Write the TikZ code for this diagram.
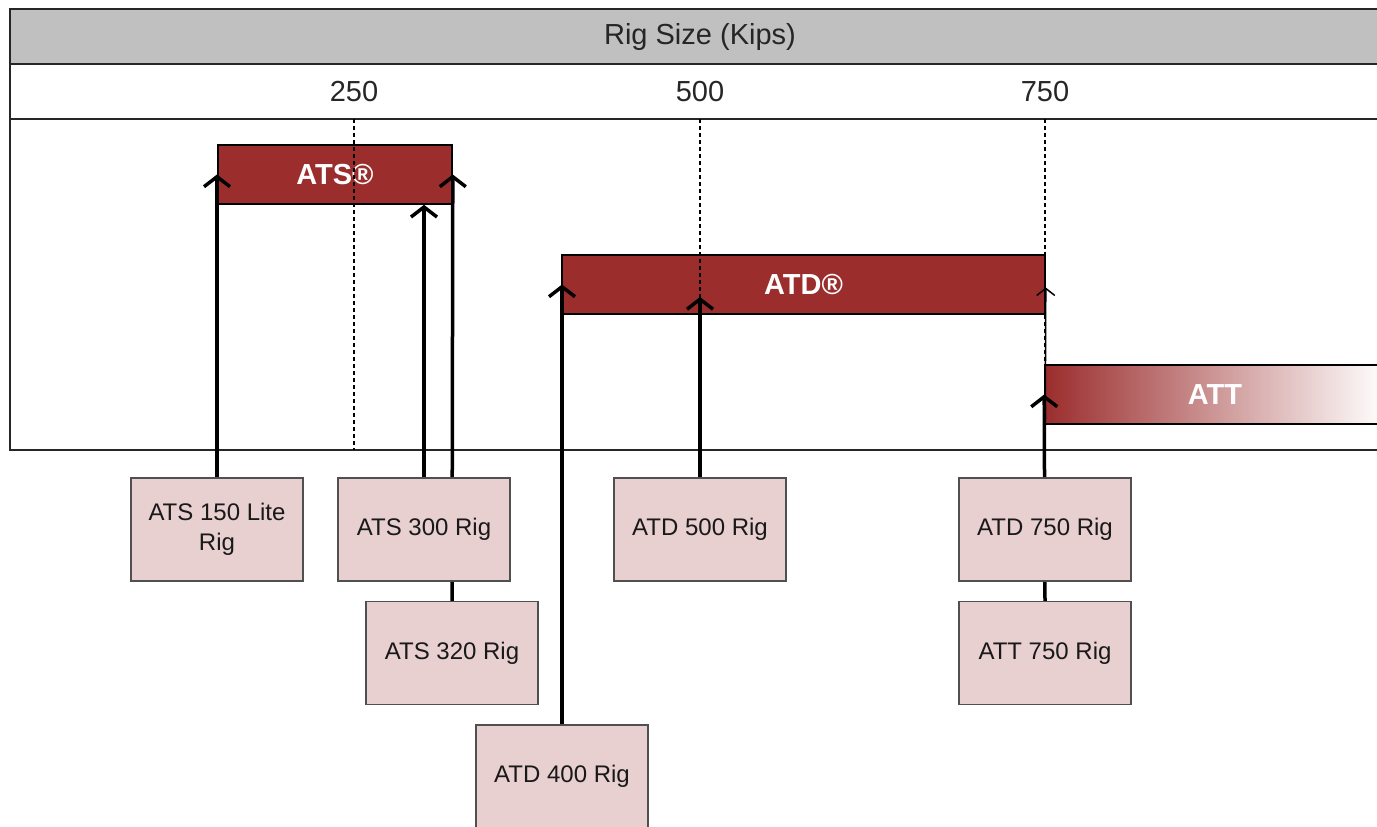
\documentclass[tikz,border=0pt]{standalone}
\usepackage{fontspec}
\setmainfont{Liberation Sans}
\usetikzlibrary{arrows.meta,backgrounds}
\definecolor{barred}{HTML}{9B2D2D}
\definecolor{boxpink}{HTML}{E8CFD0}
\definecolor{hdrgray}{HTML}{C0C0C0}
\definecolor{boxline}{HTML}{505050}
\begin{document}
\begin{tikzpicture}[x=1pt,y=-1pt,
  rigbox/.style={draw=boxline, line width=1.4pt, fill=boxpink, minimum width=172pt, minimum height=103pt, inner sep=0pt, align=center, font=\fontsize{24}{30}\selectfont, text=black!90},
  barbox/.style={draw=black, line width=1.6pt, fill=barred, minimum height=59pt, inner sep=0pt, text=white, font=\bfseries\fontsize{29}{32}\selectfont},
  frameline/.style={draw=black!85, line width=2pt},
  ticklabel/.style={font=\fontsize{29}{32}\selectfont, text=black!85},
  gridline/.style={black, line width=1.4pt, dash pattern=on 4pt off 3pt},
  link/.style={line width=3.5pt, -{Straight Barb[length=10pt,width=26pt]}},
  thinlink/.style={line width=1.5pt, -{Straight Barb[length=7pt,width=18pt]}}]
\useasboundingbox (0,0) rectangle (1377,827);
% rig boxes (main layer)
\node[rigbox] (ats150) at (217,529.5) {ATS 150 Lite\\Rig};
\node[rigbox] (ats300) at (424,529.5) {ATS 300 Rig};
\node[rigbox] (ats320) at (452,653) {ATS 320 Rig};
\node[rigbox] (atd400) at (562,776.5) {ATD 400 Rig};
\node[rigbox] (atd500) at (700,529.5) {ATD 500 Rig};
\node[rigbox] (atd750) at (1045,529.5) {ATD 750 Rig};
\node[rigbox] (att750) at (1045,653) {ATT 750 Rig};
\begin{scope}[on background layer]
  % frame
  \fill[hdrgray] (10,9) rectangle (1395,64);
  \draw[frameline] (1395,9) -- (10,9) -- (10,450) -- (1395,450);
  \draw[frameline] (10,64) -- (1395,64);
  \draw[frameline] (10,119) -- (1395,119);
  \node[ticklabel] (title) at (700,37) {Rig Size (Kips)};
  \node[ticklabel] (t250) at (354,92) {250};
  \node[ticklabel] (t500) at (700,92) {500};
  \node[ticklabel] (t750) at (1045,92) {750};
  % bars
  \node[barbox, minimum width=234pt] (atsbar) at (335,174.5) {ATS®};
  \node[barbox, minimum width=483pt] (atdbar) at (803.5,284.5) {ATD®};
  \node[barbox, minimum width=340pt, left color=barred, right color=white] (attbar) at (1215,394.5) {ATT};
  % grid lines
  \coordinate (g250) at (354,450);
  \coordinate (g500) at (700,450);
  \coordinate (g750) at (1045,450);
  \draw[gridline] (t250 |- 0,119) -- (g250);
  \draw[gridline] (t500 |- 0,119) -- (g500);
  \draw[gridline] (t750 |- 0,119) -- (g750);
  % connectors
  \coordinate (tip500) at (700,297);
  \draw[link] (ats150.north) -- (ats150.north |- atsbar.center);
  \draw[link] (ats300.north) -- (ats300.north |- atsbar.south);
  \draw[link] (ats320.north) -- (atsbar.east);
  \draw[link] (atd400.north) -- (atd400.north |- atdbar.center);
  \draw[link] (atd500.north) -- (tip500);
  \draw[thinlink] (atd750.north) -- ([yshift=-3pt]atdbar.east);
  \draw[link] (att750.north) -- (attbar.west);
\end{scope}
\end{tikzpicture}
\end{document}
